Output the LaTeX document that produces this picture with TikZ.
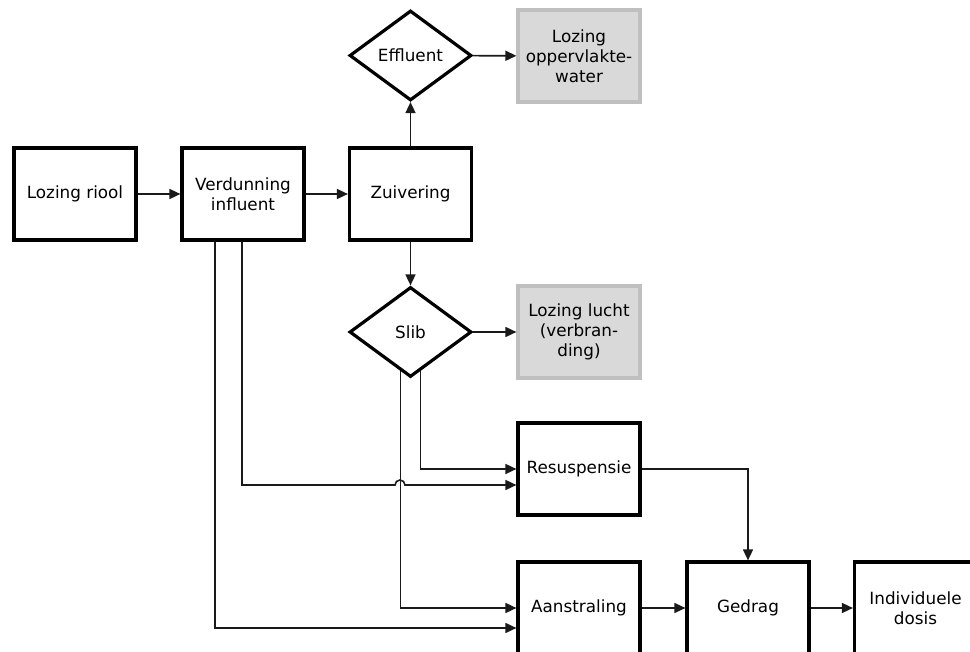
\documentclass[tikz,border=0pt]{standalone}
\usepackage{fontspec}
\setmainfont{DejaVu Sans}
\usetikzlibrary{shapes.geometric,arrows.meta,calc}
\definecolor{boxgrey}{HTML}{D9D9D9}
\definecolor{edgegrey}{HTML}{BFBFBF}
\definecolor{linedark}{HTML}{1A1A1A}
\begin{document}
\begin{tikzpicture}[x=1pt,y=-1pt,
  every node/.style={font=\fontsize{16.8}{20}\selectfont, align=center, inner sep=0pt},
  process/.style={draw=black, line width=3.2pt, fill=white, minimum width=122pt, minimum height=92pt},
  output/.style={draw=edgegrey, line width=3.2pt, fill=boxgrey, minimum width=122pt, minimum height=92pt},
  decision/.style={draw=black, line width=3.2pt, fill=white, shape=diamond, miter limit=20,
                   minimum width=122pt, minimum height=90pt},
  conn/.style={draw=linedark, line width=1.6pt, -{Triangle[length=11pt,width=10pt]}}
]
\useasboundingbox (0,0) rectangle (970,652);

% main chain
\node[process] (riool) at (75,194) {Lozing riool};
\node[process] (verd)  at (243,194) {Verdunning\\influent};
\node[process] (zuiv)  at (410.5,194) {Zuivering};

% branches of the treatment plant
\node[decision] (eff)  at (410.5,55.5) {Effluent};
\node[output]   (opp)  at (579,56) {Lozing\\oppervlakte-\\water};
\node[decision] (slib) at (410.5,332) {Slib};
\node[output]   (lucht) at (579,332) {Lozing lucht\\(verbran-\\ding)};

% exposure routes
\node[process] (resus) at (579,469) {Resuspensie};
\node[process] (aan)   at (579,608) {Aanstraling};
\node[process] (gedrag) at (748,608) {Gedrag};
\node[process] (dosis) at (915.5,608) {Individuele\\dosis};

% connectors
\draw[conn] (riool) -- (verd);
\draw[conn] (verd) -- (zuiv);
\draw[conn] (zuiv) -- (eff);
\draw[conn] (eff) -- (opp);
\draw[conn] (zuiv) -- (slib);
\draw[conn] (slib) -- (lucht);

\coordinate (hop) at (400,485);
\draw[conn] ($(slib.south)+(10,-7.6)$) |- (resus.west);
\draw[conn] ($(slib.south)+(-10,-7.6)$) |- (aan.west);
\draw[conn] ($(verd.south)+(-1,0)$) |- ($(hop)+(-5,0)$)
  arc[start angle=180,end angle=360,radius=5] -- ($(resus.west)+(0,16)$);
\draw[conn] ($(verd.south)+(-28,0)$) |- ($(aan.west)+(0,20)$);

\draw[conn] (resus.east) -| (gedrag.north);
\draw[conn] (aan) -- (gedrag);
\draw[conn] (gedrag) -- (dosis);
\end{tikzpicture}
\end{document}
